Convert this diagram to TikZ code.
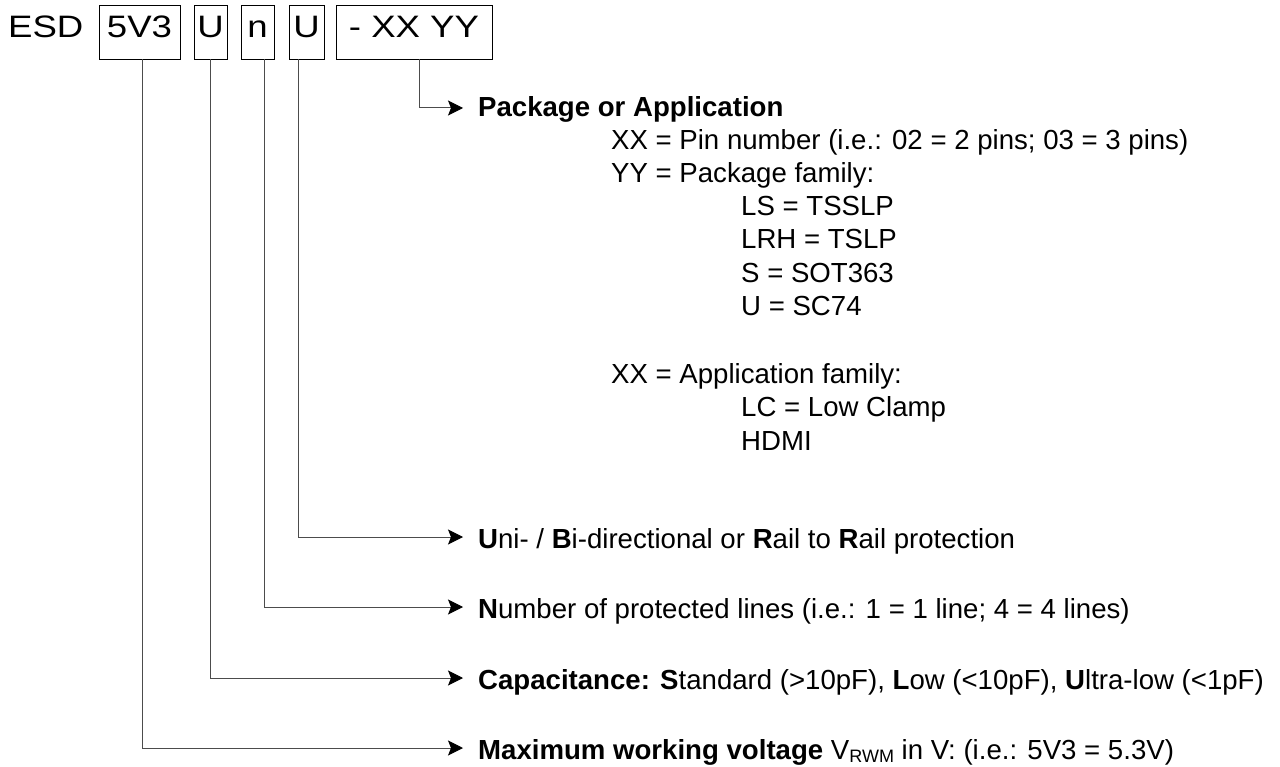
\documentclass[tikz,border=0pt]{standalone}
\usepackage{fontspec}
\usepackage{graphicx}
\setmainfont{Liberation Sans}
\usetikzlibrary{arrows.meta}
\newcommand{\hdr}[1]{\scalebox{1.18}[1]{#1}}
\begin{document}
\begin{tikzpicture}[x=1pt,y=-1pt,
  codebox/.style={draw=black, line width=0.8pt, minimum height=54pt, inner sep=0pt, text height=22pt, text depth=10pt, font=\fontsize{31}{31}\selectfont},
  conn/.style={draw=black!70, line width=1pt, -{Stealth[length=15pt,width=15pt,inset=3pt,fill=black,color=black]}},
  lbl/.style={anchor=base west, inner sep=0pt, font=\fontsize{27.6}{27.6}\selectfont}]
\useasboundingbox (0,0) rectangle (1280,767);
\node[anchor=base west, inner sep=0pt, font=\fontsize{31}{31}\selectfont] (esd) at (8,38) {\hdr{ESD}};
\node[codebox, minimum width=81pt] (b1) at (139.5,32) {\hdr{5V3}};
\node[codebox, minimum width=33pt] (b2) at (210.5,32) {\hdr{U}};
\node[codebox, minimum width=33pt] (b3) at (257.5,32) {\hdr{n}};
\node[codebox, minimum width=35pt] (b4) at (306.5,32) {\hdr{U}};
\node[codebox, minimum width=156pt] (b5) at (414,32) {\hdr{- XX YY}};
% labels
\node[lbl] (pkg) at (478,117) {\textbf{Package or Application}};
\node[lbl] (l1) at (611,150) {XX = Pin number (i.e.: 02 = 2 pins; 03 = 3 pins)};
\node[lbl] (l2) at (611,183) {YY = Package family:};
\node[lbl] (l3) at (741,216) {LS = TSSLP};
\node[lbl] (l4) at (741,249) {LRH = TSLP};
\node[lbl] (l5) at (741,283) {S = SOT363};
\node[lbl] (l6) at (741,316) {U = SC74};
\node[lbl] (l7) at (611,383) {XX = Application family:};
\node[lbl] (l8) at (741,416) {LC = Low Clamp};
\node[lbl] (l9) at (741,450) {HDMI};
\node[lbl] (uni) at (478,548) {\textbf{U}ni- / \textbf{B}i-directional or \textbf{R}ail to \textbf{R}ail protection};
\node[lbl] (num) at (478,618) {\textbf{N}umber of protected lines (i.e.: 1 = 1 line; 4 = 4 lines)};
\node[lbl] (cap) at (478,689) {\textbf{Capacitance: S}tandard (>10pF), \textbf{L}ow (<10pF), \textbf{U}ltra-low (<1pF)};
\node[lbl] (max) at (478,759) {\textbf{Maximum working voltage} V\raisebox{-3pt}{\fontsize{18}{18}\selectfont RWM} in V: (i.e.: 5V3 = 5.3V)};
% connectors
\coordinate (t5) at (463,108);
\coordinate (t4) at (463,537);
\coordinate (t3) at (463,607);
\coordinate (t2) at (463,678);
\coordinate (t1) at (463,748);
\draw[conn] ([xshift=5pt]b5.south) |- (t5);
\draw[conn] ([xshift=-8.5pt]b4.south) |- (t4);
\draw[conn] ([xshift=6.5pt]b3.south) |- (t3);
\draw[conn] ([xshift=-0.5pt]b2.south) |- (t2);
\draw[conn] ([xshift=2.5pt]b1.south) |- (t1);
\end{tikzpicture}
\end{document}
